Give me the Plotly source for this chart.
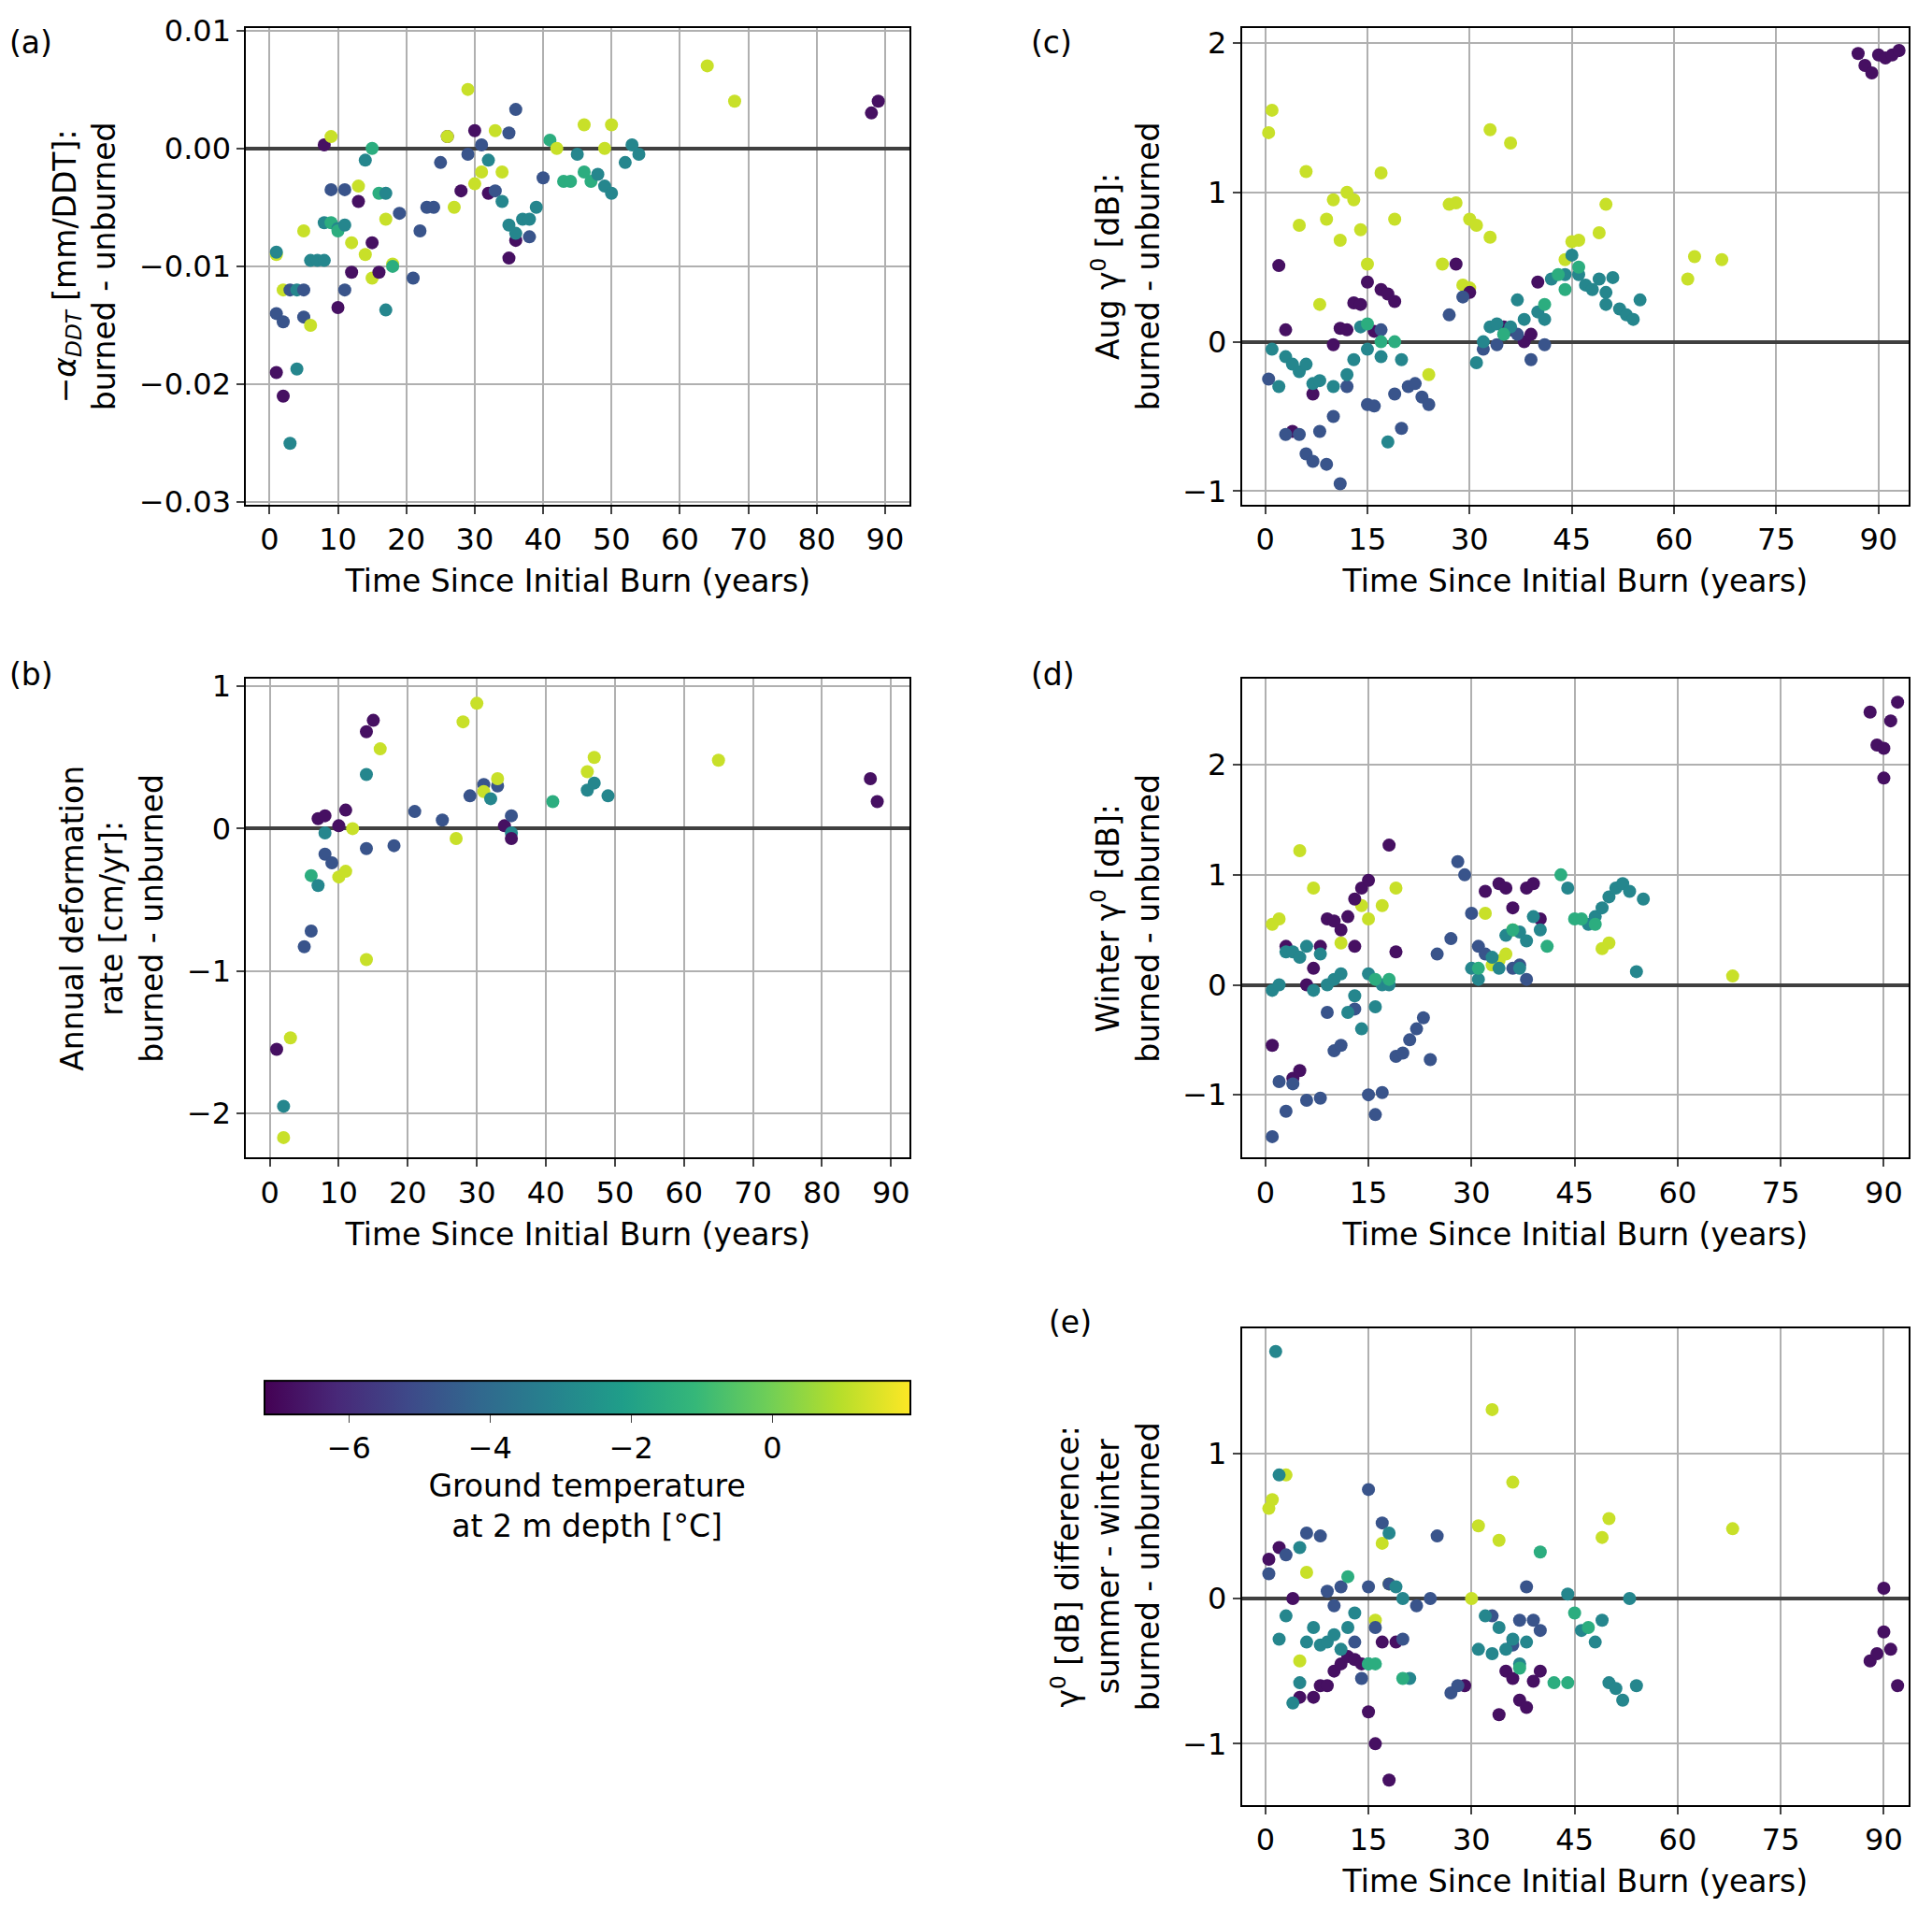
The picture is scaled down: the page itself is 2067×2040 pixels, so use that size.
import plotly.graph_objects as go

D, B, T, G, Y = -6.8, -4.8, -3.0, -1.5, 1.2

# panel (a): -alpha_DDT
a_x = [1,1,1,1,2,2,2,3,3,4,4,5,5,5,6,6,7,8,8,8,9,9,9,10,10,10,11,11,11,12,12,13,13,14,14,15,15,15,16,16,17,17,17,18,18,19,21,22,23,24,25,26,26,27,28,29,29,30,30,31,31,32,32,33,33,34,34,35,35,35,36,36,36,37,38,38,39,40,41,42,43,44,45,46,46,47,48,49,49,50,50,52,53,54,64,68,88,89]
a_y = [-0.009,-0.0088,-0.014,-0.019,-0.021,-0.012,-0.0147,-0.025,-0.012,-0.0187,-0.012,-0.012,-0.0143,-0.007,-0.015,-0.0095,-0.0095,0.0003,-0.0095,-0.0063,0.001,-0.0063,-0.0035,-0.0068,-0.0135,-0.007,-0.0035,-0.012,-0.0065,-0.008,-0.0105,-0.0045,-0.0032,-0.009,-0.001,0.0,-0.008,-0.011,-0.0038,-0.0105,-0.0038,-0.0137,-0.006,-0.0098,-0.01,-0.0055,-0.011,-0.007,-0.005,-0.005,-0.0012,0.001,0.001,-0.005,-0.0036,0.005,-0.0005,-0.003,0.0015,-0.002,0.0003,-0.0038,-0.001,0.0015,-0.0036,-0.002,-0.0045,-0.0093,-0.0065,0.0013,0.0033,-0.0078,-0.0072,-0.006,-0.0075,-0.006,-0.005,-0.0025,0.0007,0.0,-0.0028,-0.0028,-0.0005,0.002,-0.002,-0.0028,-0.0022,0.0,-0.0032,0.002,-0.0038,-0.0012,0.0003,-0.0005,0.007,0.004,0.003,0.004]
a_t = [Y,T,B,D,D,Y,B,T,B,T,T,B,B,Y,Y,T,T,D,T,T,Y,G,B,T,D,G,B,B,T,Y,D,D,Y,Y,T,G,D,Y,G,D,T,T,Y,Y,G,B,B,B,B,B,B,D,Y,Y,D,Y,B,Y,D,Y,B,D,T,Y,B,Y,T,D,T,B,B,D,T,T,B,T,T,B,G,Y,G,G,T,Y,G,G,T,Y,T,Y,T,T,T,T,Y,Y,D,D]
a_ticks = [-0.03, -0.02, -0.01, 0.0, 0.01]
a_ticktext = ["−0.03", "−0.02", "−0.01", "0.00", "0.01"]

# panel (b): annual deformation rate
b_x = [1,2,2,3,5,6,6,7,7,8,8,8,9,10,10,11,11,12,14,14,14,14,15,16,18,21,25,27,28,29,30,31,31,32,33,33,34,35,35,35,41,46,46,47,47,49,65,87,88]
b_y = [-1.55,-1.95,-2.17,-1.47,-0.83,-0.72,-0.33,-0.4,0.07,-0.18,0.09,-0.03,-0.24,-0.34,0.02,-0.3,0.13,0.0,0.68,0.38,-0.14,-0.92,0.76,0.56,-0.12,0.12,0.06,-0.07,0.75,0.23,0.88,0.31,0.26,0.21,0.3,0.35,0.02,0.09,-0.03,-0.07,0.19,0.4,0.27,0.5,0.32,0.23,0.48,0.35,0.19]
b_t = [D,T,Y,Y,B,B,G,T,D,B,D,T,B,Y,D,Y,D,Y,D,T,B,Y,D,Y,B,B,B,Y,Y,B,Y,B,Y,T,B,Y,D,B,T,D,G,Y,T,Y,T,T,Y,D,D]

# panel (c): Aug gamma0
c_pts = {
    Y: [(0.5,1.4),(1,1.55),(5,0.78),(6,1.14),(8,0.25),(9,0.82),(10,0.95),(11,0.68),(12,1.0),(13,0.95),(14,0.75),(15,0.52),(17,1.13),(19,0.82),(24,-0.22),(26,0.52),(27,0.92),(28,0.93),(30,0.82),(31,0.78),(33,1.42),(33,0.7),(36,1.33),(44,0.55),(45,0.67),(46,0.68),(49,0.73),(50,0.92),(62,0.42),(63,0.57),(67,0.55),(29,0.38),(30,0.36)],
    D: [(2,0.51),(3,0.08),(4,-0.6),(7,-0.35),(10,-0.02),(11,0.09),(12,0.08),(13,0.26),(14,0.25),(15,0.4),(16,0.07),(17,0.35),(18,0.32),(19,0.27),(28,0.52),(30,0.33),(35,0.1),(36,0.08),(38,0.0),(39,0.05),(40,0.4),(87,1.93),(88,1.85),(89,1.8),(90,1.92),(91,1.9),(92,1.92),(93,1.95)],
    B: [(0.5,-0.25),(3,-0.62),(5,-0.62),(6,-0.75),(7,-0.8),(8,-0.6),(9,-0.82),(10,-0.5),(11,-0.95),(12,-0.3),(15,-0.42),(16,-0.43),(19,-0.35),(20,-0.58),(21,-0.3),(22,-0.28),(23,-0.37),(24,-0.42),(27,0.18),(29,0.3),(32,-0.05),(34,-0.02),(37,0.05),(39,-0.12),(41,-0.02),(17,0.08)],
    T: [(1,-0.05),(2,-0.3),(3,-0.1),(4,-0.15),(5,-0.2),(6,-0.15),(7,-0.28),(8,-0.26),(10,-0.3),(12,-0.22),(13,-0.12),(14,0.1),(15,-0.05),(17,-0.1),(18,-0.67),(20,-0.12),(31,-0.14),(32,0.0),(33,0.1),(34,0.12),(35,0.05),(36,0.1),(37,0.28),(38,0.15),(40,0.2),(41,0.15),(42,0.42),(44,0.45),(45,0.58),(46,0.45),(47,0.38),(48,0.35),(49,0.42),(50,0.25),(51,0.43),(52,0.22),(53,0.18),(54,0.15),(55,0.28),(50,0.33)],
    G: [(15,0.12),(17,0.0),(19,0.0),(35,0.05),(41,0.25),(43,0.45),(44,0.35),(46,0.5)],
}

# panel (d): winter gamma0
d_pts = {
    Y: [(1,0.55),(2,0.6),(5,1.22),(7,0.88),(11,0.38),(14,0.72),(15,0.6),(17,0.72),(19,0.88),(32,0.65),(33,0.18),(34,0.22),(35,0.28),(36,0.5),(49,0.33),(50,0.38),(68,0.08)],
    D: [(1,-0.55),(3,0.35),(4,-0.85),(5,-0.78),(6,0.0),(7,0.15),(8,0.35),(9,0.6),(10,0.58),(11,0.5),(12,0.62),(13,0.78),(14,0.88),(15,0.95),(18,1.27),(19,0.3),(32,0.85),(34,0.92),(35,0.88),(36,0.7),(38,0.88),(39,0.92),(40,0.6),(88,2.48),(89,2.18),(90,2.15),(90,1.88),(91,2.4),(92,2.57),(13,0.35)],
    B: [(1,-1.38),(2,-0.88),(3,-1.15),(4,-0.9),(6,-1.05),(8,-1.03),(9,-0.25),(10,-0.6),(11,-0.55),(13,-0.22),(15,-1.0),(16,-1.18),(17,-0.98),(19,-0.65),(20,-0.62),(21,-0.5),(22,-0.4),(23,-0.3),(24,-0.68),(25,0.28),(27,0.42),(28,1.12),(29,1.0),(31,0.35),(32,0.28),(36,0.15),(37,0.18),(38,0.05),(30,0.65)],
    T: [(1,-0.05),(2,0.0),(3,0.3),(4,0.3),(5,0.25),(6,0.35),(7,-0.05),(8,0.28),(9,0.0),(10,0.05),(11,0.1),(12,-0.25),(13,-0.1),(14,-0.4),(15,0.1),(16,-0.2),(17,0.0),(18,0.0),(30,0.15),(31,0.05),(33,0.25),(34,0.15),(35,0.45),(37,0.48),(38,0.4),(39,0.62),(44,0.88),(47,0.55),(48,0.62),(49,0.7),(50,0.8),(51,0.88),(52,0.92),(53,0.85),(54,0.12),(55,0.78),(37,0.15),(40,0.5)],
    G: [(16,0.05),(18,0.05),(36,0.5),(41,0.35),(43,1.0),(45,0.6),(46,0.6),(48,0.55),(31,0.15)],
}

# panel (e): summer - winter
e_pts = {
    Y: [(0.5,0.62),(1,0.68),(3,0.85),(5,-0.43),(6,0.18),(16,-0.15),(17,0.38),(18,0.1),(30,0.0),(31,0.5),(33,1.3),(34,0.4),(36,0.8),(49,0.42),(50,0.55),(68,0.48)],
    D: [(0.5,0.27),(2,0.35),(4,0.0),(5,-0.68),(7,-0.68),(8,-0.6),(9,-0.6),(10,-0.5),(11,-0.45),(12,-0.4),(13,-0.42),(14,-0.45),(15,-0.78),(16,-1.0),(17,-0.3),(18,-1.25),(19,-0.3),(29,-0.6),(34,-0.8),(35,-0.5),(36,-0.55),(37,-0.7),(38,-0.75),(39,-0.57),(40,-0.5),(88,-0.43),(89,-0.38),(90,-0.23),(90,0.07),(91,-0.35),(92,-0.6)],
    B: [(0.5,0.17),(3,0.3),(6,0.45),(8,0.43),(9,0.05),(10,-0.05),(11,0.08),(13,-0.3),(14,-0.55),(15,0.75),(16,-0.2),(17,0.52),(18,0.1),(20,-0.28),(22,-0.05),(24,0.0),(25,0.43),(27,-0.65),(28,-0.6),(33,-0.12),(36,-0.32),(37,-0.15),(38,0.08),(39,-0.15),(40,-0.22),(15,0.08)],
    T: [(1.5,1.7),(2,0.85),(2,-0.28),(3,-0.12),(4,-0.72),(5,-0.58),(5,0.35),(6,-0.3),(7,-0.2),(8,-0.32),(9,-0.3),(10,-0.25),(11,-0.35),(12,-0.2),(13,-0.1),(15,-0.45),(18,0.45),(19,0.08),(20,0.0),(21,-0.55),(31,-0.35),(32,-0.12),(33,-0.38),(34,-0.2),(35,-0.35),(36,-0.28),(37,-0.45),(38,-0.3),(44,0.03),(46,-0.22),(48,-0.3),(49,-0.15),(50,-0.58),(51,-0.62),(52,-0.7),(53,0.0),(54,-0.6)],
    G: [(12,0.15),(15,-0.45),(16,-0.45),(40,0.32),(42,-0.58),(44,-0.58),(45,-0.1),(47,-0.2),(20,-0.55),(37,-0.48)],
}

def unpack(pts):
    xs, ys, ts = [], [], []
    for t, lst in pts.items():
        for x, y in lst:
            xs.append(x); ys.append(y); ts.append(t)
    return xs, ys, ts

FONT = "DejaVu Sans"
fig = go.Figure()

def add(xs, ys, ts, ax):
    fig.add_trace(go.Scatter(x=xs, y=ys, mode="markers", xaxis="x" + ax, yaxis="y" + ax,
                             marker=dict(size=14, color=ts, coloraxis="coloraxis"),
                             showlegend=False))

add(a_x, a_y, a_t, "")
add(b_x, b_y, b_t, "2")
add(*unpack(c_pts), "3")
add(*unpack(d_pts), "4")
add(*unpack(e_pts), "5")

xtitle = "Time Since Initial Burn (years)"
common = dict(showline=True, mirror=True, linecolor="black", linewidth=2, gridcolor="#b0b0b0",
              gridwidth=2, ticks="outside", ticklen=8, tickwidth=2, tickfont=dict(size=32),
              title_font=dict(size=33))

def xa(domain, rng, dtick, anchor):
    return dict(domain=domain, range=rng, dtick=dtick, tick0=0, anchor=anchor, zeroline=False,
                title=dict(text=xtitle), **common)

def ya(domain, rng, title, anchor, dtick):
    return dict(domain=domain, range=rng, anchor=anchor, dtick=dtick, tick0=0, zeroline=True,
                zerolinecolor="#404040", zerolinewidth=4, title=dict(text=title), **common)

L, R = [0.1236, 0.467], [0.639, 0.984]
TOP, MID, BOT = [0.743, 0.997], [0.395, 0.650], [0.05, 0.304]
ya1 = ya(TOP, [-0.0302, 0.0102], "−<i>α<sub>DDT</sub></i> [mm/DDT]:<br>burned - unburned", "x", 0.01)
ya1.update(tickmode="array", tickvals=a_ticks, ticktext=a_ticktext)
fig.update_layout(
    width=2067, height=2040, plot_bgcolor="white", paper_bgcolor="white",
    font=dict(family=FONT, color="black"),
    margin=dict(l=0, r=0, t=0, b=0),
    xaxis=xa(L, [-3.4, 93.6], 10, "y"),
    yaxis=ya1,
    xaxis2=xa(L, [-3.4, 92.7], 10, "y2"),
    yaxis2=ya(MID, [-2.31, 1.05], "Annual deformation<br>rate [cm/yr]:<br>burned - unburned", "x2", 1),
    xaxis3=xa(R, [-3.4, 94.4], 15, "y3"),
    yaxis3=ya(TOP, [-1.09, 2.1], "Aug γ<sup>0</sup> [dB]:<br>burned - unburned", "x3", 1),
    xaxis4=xa(R, [-3.4, 93.6], 15, "y4"),
    yaxis4=ya(MID, [-1.57, 2.78], "Winter γ<sup>0</sup> [dB]:<br>burned - unburned", "x4", 1),
    xaxis5=xa(R, [-3.4, 93.6], 15, "y5"),
    yaxis5=ya(BOT, [-1.42, 1.86], "γ<sup>0</sup> [dB] difference:<br>summer - winter<br>burned - unburned", "x5", 1),
    coloraxis=dict(colorscale="Viridis", cmin=-7.2, cmax=1.95,
                   colorbar=dict(orientation="h", x=0.300, xanchor="center", y=0.232, yanchor="middle",
                                 len=0.344, lenmode="fraction", thickness=36, outlinewidth=2,
                                 outlinecolor="black", tickvals=[-6, -4, -2, 0],
                                 ticktext=["−6", "−4", "−2", "0"], ticks="outside", ticklen=8,
                                 tickfont=dict(size=32),
                                 title=dict(text="Ground temperature<br>at 2 m depth [°C]", side="bottom",
                                            font=dict(size=33)))),
)

for txt, x, y in [("(a)", 0.0, 1.0), ("(c)", 0.529, 1.0), ("(b)", 0.0, 0.663), ("(d)", 0.529, 0.663), ("(e)", 0.538, 0.318)]:
    fig.add_annotation(text=txt, x=x, y=y, xref="paper", yref="paper", xanchor="left", yanchor="top",
                       showarrow=False, font=dict(size=33))

fig.write_html("out.html")
